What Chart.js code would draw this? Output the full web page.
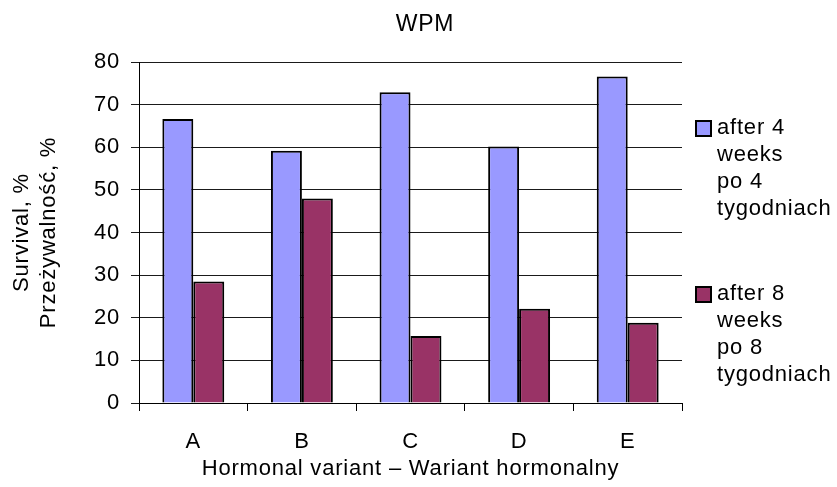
<!DOCTYPE html>
<html>
<head>
<meta charset="utf-8">
<script src="https://cdn.jsdelivr.net/npm/chart.js@4"></script>
<style>
  body { margin: 0; background: #fff; }
  canvas { display: block; }
</style>
</head>
<body>
<canvas id="wpmChart" width="837" height="487" style="width:837px;height:487px"></canvas>
<script>
const categories = ["A", "B", "C", "D", "E"];
const after4 = [66.6, 59.2, 72.9, 60.2, 76.6];
const after8 = [28.5, 48.0, 15.7, 22.1, 18.8];
const legend4 = ["after 4", "weeks", "po 4", "tygodniach"];
const legend8 = ["after 8", "weeks", "po 8", "tygodniach"];
const yTicks = [0, 10, 20, 30, 40, 50, 60, 70, 80];
const chartTitle = "WPM";

const FONT = "'Liberation Sans', Arial, sans-serif";
const SIZE = 22;
const SPACING = "0.8px";

// the original text is set a bit wide, so spread letters a little
const wideText = {
  id: "wideText",
  beforeLayout(chart) { chart.ctx.letterSpacing = SPACING; },
  beforeDraw(chart) { chart.ctx.letterSpacing = SPACING; }
};

// title centred on the whole picture + legend with wrapped lines on the right
const extras = {
  id: "extras",
  afterDraw(chart) {
    const ctx = chart.ctx;
    const area = chart.chartArea;
    ctx.save();
    ctx.letterSpacing = SPACING;
    ctx.fillStyle = "#000";
    ctx.textBaseline = "middle";

    ctx.font = "23px " + FONT;
    ctx.textAlign = "center";
    ctx.fillText(chartTitle, 425, 25);

    ctx.font = SIZE + "px " + FONT;
    ctx.textAlign = "left";
    const x = area.right + 14;
    let y = area.top + 66;
    chart.data.datasets.forEach(function (ds) {
      ctx.fillStyle = ds.backgroundColor;
      ctx.fillRect(x, y - 7, 15, 15);
      ctx.strokeStyle = "#000";
      ctx.lineWidth = 2;
      ctx.strokeRect(x, y - 7, 15, 15);
      ctx.fillStyle = "#000";
      ds.legendLines.forEach(function (line, i) {
        ctx.fillText(line, x + 21, y + i * 27);
      });
      y += 166;
    });
    ctx.restore();
  }
};

const ctx = document.getElementById("wpmChart").getContext("2d");
new Chart(ctx, {
  type: "bar",
  data: {
    labels: categories,
    datasets: [
      {
        label: legend4.join(" "),
        legendLines: legend4,
        data: after4,
        backgroundColor: "#9999FF",
        borderColor: "#000",
        borderWidth: 2,
        categoryPercentage: 0.57,
        barPercentage: 1
      },
      {
        label: legend8.join(" "),
        legendLines: legend8,
        data: after8,
        backgroundColor: "#993366",
        borderColor: "#000",
        borderWidth: 2,
        categoryPercentage: 0.57,
        barPercentage: 1
      }
    ]
  },
  options: {
    responsive: false,
    animation: false,
    layout: { padding: { top: 62, right: 155, bottom: 0, left: 0 } },
    plugins: {
      legend: { display: false },
      tooltip: { enabled: false },
      title: { display: false }
    },
    scales: {
      x: {
        afterFit(scale) { scale.height = 84; },
        grid: {
          offset: true,
          drawOnChartArea: false,
          color: "#000",
          tickLength: 8
        },
        border: { color: "#000", width: 1 },
        ticks: {
          color: "#000",
          padding: 18,
          font: { family: FONT, size: SIZE }
        },
        title: {
          display: true,
          text: "Hormonal variant \u2013 Wariant hormonalny",
          color: "#000",
          font: { family: FONT, size: SIZE },
          padding: { top: 0, bottom: 5 }
        }
      },
      y: {
        min: 0,
        max: 80,
        afterFit(scale) { scale.width = 139; },
        afterBuildTicks(scale) {
          scale.ticks = yTicks.map(function (v) { return { value: v }; });
        },
        grid: { color: "#1a1a1a", lineWidth: 1, tickLength: 8 },
        border: { color: "#000", width: 1 },
        ticks: {
          color: "#000",
          padding: 11,
          font: { family: FONT, size: SIZE }
        },
        title: {
          display: true,
          text: ["Survival, %", "Prze\u017cywalno\u015b\u0107, %"],
          color: "#000",
          font: { family: FONT, size: SIZE, lineHeight: 27 / SIZE },
          padding: { top: 8, bottom: 0 }
        }
      }
    }
  },
  plugins: [wideText, extras]
});
</script>
</body>
</html>
